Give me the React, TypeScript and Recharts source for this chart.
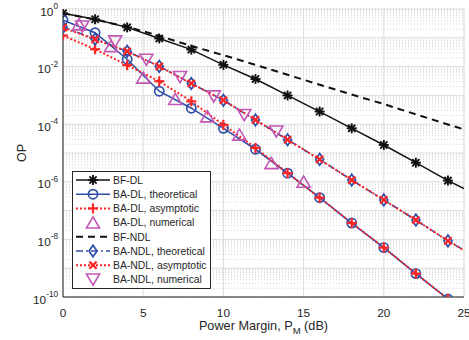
import React from 'react';
import { LineChart, Line, XAxis, YAxis, CartesianGrid, Legend } from 'recharts';

// power margin (dB) sample points
const pmLine = [0, 2, 4, 6, 8, 10, 12, 14, 16, 18, 20, 22, 24, 25];
const pmEven = [0, 2, 4, 6, 8, 10, 12, 14, 16, 18, 20, 22, 24];
const pmOdd = [1, 3, 5, 7, 9, 11, 13, 15];
const pmNdlNum = [1.2, 3.25, 5.2, 7.3, 9.4, 11.3, 13.3];

// outage probability
const opBfDl = [7.1e-1, 4.4e-1, 2.3e-1, 9.5e-2, 3.9e-2, 1.15e-2, 3.7e-3, 1.0e-3, 2.75e-4, 7.2e-5, 1.9e-5, 4.6e-6, 1.1e-6, 5.8e-7];
const opBfNdl = [7.1e-1, 4.3e-1, 2.4e-1, 1.17e-1, 5.2e-2, 2.5e-2, 1.15e-2, 5.2e-3, 2.35e-3, 1.07e-3, 5.0e-4, 2.2e-4, 9.8e-5, 6.6e-5];
const opBaDlTheo = [4.1e-1, 1.5e-1, 1.8e-2, 1.4e-3, 3.6e-4, 7.2e-5, 1.35e-5, 2.0e-6, 2.8e-7, 3.7e-8, 5.2e-9, 6.5e-10, 8.5e-11];
const opBaDlAsym = [1.2e-1, 4.0e-2, 1.12e-2, 3.1e-3, 6.2e-4, 9.5e-5, 1.5e-5, 2.0e-6, 2.8e-7, 3.7e-8, 5.2e-9, 6.5e-10, 8.5e-11];
const opBaDlNum = [2.9e-1, 5.1e-2, 4.1e-3, 7.4e-4, 1.86e-4, 4.3e-5, 4.4e-6, 1.0e-6];
const opBaNdlTheo = [2.35e-1, 9.1e-2, 3.4e-2, 1.02e-2, 2.6e-3, 6.8e-4, 1.4e-4, 2.9e-5, 6.0e-6, 1.15e-6, 2.35e-7, 4.7e-8, 8.9e-9, 4.2e-9];
const opBaNdlAsym = [2.25e-1, 8.8e-2, 3.4e-2, 1.02e-2, 2.6e-3, 6.8e-4, 1.4e-4, 2.9e-5, 6.0e-6, 1.15e-6, 2.35e-7, 4.7e-8, 8.9e-9, 4.2e-9];
const opBaNdlNum = [2.5e-1, 7.6e-2, 1.75e-2, 4.4e-3, 9.3e-4, 2.1e-4, 5.6e-5];

const xTicks = [0, 5, 10, 15, 20, 25];
const yTicks = [1, 1e-1, 1e-2, 1e-3, 1e-4, 1e-5, 1e-6, 1e-7, 1e-8, 1e-9, 1e-10];

const minorX: number[] = [];
for (let i = 0; i <= 125; i++) if (i % 25 !== 0) minorX.push(i / 5);
const minorY: number[] = [];
for (let d = -10; d < 0; d++) for (let k = 2; k <= 9; k++) minorY.push(k * Math.pow(10, d));

const zip = (xs: number[], ys: number[]) => xs.map((x, i) => ({ x, y: ys[i] }));

const FONT = '"Liberation Sans", Arial, Helvetica, sans-serif';
const AX = '#262626';
const BLACK = '#111111';
const BLUE = '#2f4ea6';
const RED = '#ff2424';
const PURPLE = '#c257b6';

type Kind = 'star' | 'circle' | 'plus' | 'up' | 'diamond' | 'cross' | 'down';

function Marker({ kind, cx, cy, color }: { kind: Kind; cx: number; cy: number; color: string }) {
  const s = { stroke: color, fill: 'none' };
  switch (kind) {
    case 'star':
      return (
        <g {...s} strokeWidth={1.9}>
          <line x1={cx - 5} y1={cy} x2={cx + 5} y2={cy} />
          <line x1={cx} y1={cy - 5} x2={cx} y2={cy + 5} />
          <line x1={cx - 3.6} y1={cy - 3.6} x2={cx + 3.6} y2={cy + 3.6} />
          <line x1={cx - 3.6} y1={cy + 3.6} x2={cx + 3.6} y2={cy - 3.6} />
        </g>
      );
    case 'circle':
      return <circle cx={cx} cy={cy} r={4.6} {...s} strokeWidth={1.7} />;
    case 'plus':
      return (
        <g {...s} strokeWidth={2.2}>
          <line x1={cx - 5} y1={cy} x2={cx + 5} y2={cy} />
          <line x1={cx} y1={cy - 5} x2={cx} y2={cy + 5} />
        </g>
      );
    case 'cross':
      return (
        <g {...s} strokeWidth={2.2}>
          <line x1={cx - 3.6} y1={cy - 3.6} x2={cx + 3.6} y2={cy + 3.6} />
          <line x1={cx - 3.6} y1={cy + 3.6} x2={cx + 3.6} y2={cy - 3.6} />
        </g>
      );
    case 'up':
      return <polygon points={`${cx},${cy - 5.8} ${cx - 6.6},${cy + 5.4} ${cx + 6.6},${cy + 5.4}`} {...s} strokeWidth={1.6} />;
    case 'down':
      return <polygon points={`${cx - 6.6},${cy - 5.4} ${cx + 6.6},${cy - 5.4} ${cx},${cy + 5.8}`} {...s} strokeWidth={1.6} />;
    case 'diamond':
      return <polygon points={`${cx},${cy - 5.8} ${cx + 4},${cy} ${cx},${cy + 5.8} ${cx - 4},${cy}`} {...s} strokeWidth={1.7} />;
  }
  return null;
}

const dotFor = (kind: Kind, color: string) => (p: any) => {
  const { cx, cy, payload, index } = p;
  if (cx == null || cy == null || payload.x === 25) return <g key={`d${index}`} />;
  return <Marker key={`d${index}`} kind={kind} cx={cx} cy={cy} color={color} />;
};

const XTick = (p: any) => (
  <text x={p.x} y={p.y + 17.5} textAnchor="middle" fill={AX} fontSize={11.8} fontFamily={FONT}>
    {p.payload.value}
  </text>
);

const YTick = (p: any) => {
  const e = Math.round(Math.log10(p.payload.value));
  if (e % 2 !== 0) return <g />;
  return (
    <text x={p.x} y={p.y + 6.5} textAnchor="end" fill={AX} fontSize={11.8} fontFamily={FONT}>
      10<tspan dy={-6.5} fontSize={8.2}>{e === 0 ? '0' : `-${-e}`}</tspan>
    </text>
  );
};

const legendRows: { name: string; kind?: Kind; color: string; dash?: string; line: boolean; width: number }[] = [
  { name: 'BF-DL', kind: 'star', color: BLACK, line: true, width: 1.5 },
  { name: 'BA-DL, theoretical', kind: 'circle', color: BLUE, line: true, width: 1.6 },
  { name: 'BA-DL, asymptotic', kind: 'plus', color: RED, dash: '2 2', line: true, width: 2 },
  { name: 'BA-DL, numerical', kind: 'up', color: PURPLE, line: false, width: 1 },
  { name: 'BF-NDL', color: BLACK, dash: '7 5', line: true, width: 2 },
  { name: 'BA-NDL, theoretical', kind: 'diamond', color: BLUE, dash: '7 3 2 3', line: true, width: 1.6 },
  { name: 'BA-NDL, asymptotic', kind: 'cross', color: RED, dash: '2 2', line: true, width: 2 },
  { name: 'BA-NDL, numerical', kind: 'down', color: PURPLE, line: false, width: 1 },
];

function LegendBox() {
  return (
    <svg width={139} height={118} style={{ display: 'block' }}>
      <rect x={0.5} y={0.5} width={138} height={117} fill="#fff" stroke={AX} strokeWidth={1} />
      {legendRows.map((r, i) => {
        const cy = 9 + i * 14.2;
        return (
          <g key={r.name}>
            {r.line && (
              <line x1={4} y1={cy} x2={38} y2={cy} stroke={r.color} strokeWidth={r.width} strokeDasharray={r.dash} />
            )}
            {r.kind && <Marker kind={r.kind} cx={21} cy={cy} color={r.color} />}
            <text x={41} y={cy + 3.8} fontSize={10.4} fontFamily={FONT} fill={AX}>
              {r.name}
            </text>
          </g>
        );
      })}
    </svg>
  );
}

export default function App() {
  return (
    <div style={{ position: 'absolute', left: 0, top: 0, width: 469, height: 340, background: '#fff' }}>
      <LineChart width={469} height={340} margin={{ top: 9, right: 5, bottom: 0, left: 0 }}>
        <CartesianGrid xAxisId="minor" yAxisId="minor" stroke="#d6d6d6" strokeDasharray="1 2" />
        <CartesianGrid stroke="#dcdcdc" />
        <XAxis
          dataKey="x"
          type="number"
          domain={[0, 25]}
          ticks={xTicks}
          interval={0}
          height={43}
          tickSize={0}
          tick={XTick}
          axisLine={{ stroke: AX }}
          allowDataOverflow
          label={{
            content: (p: any) => (
              <text
                x={p.viewBox.x + p.viewBox.width / 2}
                y={p.viewBox.y + 33}
                textAnchor="middle"
                fill={AX}
                fontSize={12.7}
                fontFamily={FONT}
                style={{ whiteSpace: 'pre' }}
              >
                Power Margin, P<tspan dy={3.5} fontSize={9.5}>M</tspan>
                <tspan dy={-3.5} fontSize={12.7}> (dB)</tspan>
              </text>
            ),
          }}
        />
        <XAxis xAxisId="top" orientation="top" type="number" domain={[0, 25]} height={0} tick={false} tickLine={false} axisLine={{ stroke: AX }} />
        <XAxis xAxisId="minor" type="number" domain={[0, 25]} ticks={minorX} interval={0} hide />
        <YAxis
          type="number"
          scale="log"
          domain={[1e-10, 1]}
          ticks={yTicks}
          interval={0}
          allowDataOverflow
          width={63}
          tickSize={0}
          tickMargin={5}
          tick={YTick}
          axisLine={{ stroke: AX }}
          label={{
            content: (p: any) => {
              const cy = p.viewBox.y + p.viewBox.height / 2;
              return (
                <text x={25.5} y={cy} transform={`rotate(-90 25.5 ${cy})`} textAnchor="middle" fill={AX} fontSize={12.5} fontFamily={FONT}>
                  OP
                </text>
              );
            },
          }}
        />
        <YAxis yAxisId="right" orientation="right" type="number" domain={[0, 1]} width={0} tick={false} tickLine={false} axisLine={{ stroke: AX }} />
        <YAxis yAxisId="minor" type="number" scale="log" domain={[1e-10, 1]} ticks={minorY} interval={0} allowDataOverflow hide />

        <Line data={zip(pmLine, opBfDl)} dataKey="y" type="linear" stroke={BLACK} strokeWidth={1.5} dot={dotFor('star', BLACK)} activeDot={false} isAnimationActive={false} />
        <Line data={zip(pmEven, opBaDlTheo)} dataKey="y" type="linear" stroke={BLUE} strokeWidth={1.6} dot={dotFor('circle', BLUE)} activeDot={false} isAnimationActive={false} />
        <Line data={zip(pmEven, opBaDlAsym)} dataKey="y" type="linear" stroke={RED} strokeWidth={2} strokeDasharray="2 2" dot={dotFor('plus', RED)} activeDot={false} isAnimationActive={false} />
        <Line data={zip(pmOdd, opBaDlNum)} dataKey="y" type="linear" stroke="none" dot={dotFor('up', PURPLE)} activeDot={false} isAnimationActive={false} />
        <Line data={zip(pmLine, opBfNdl)} dataKey="y" type="linear" stroke={BLACK} strokeWidth={2} strokeDasharray="7 5" dot={false} activeDot={false} isAnimationActive={false} />
        <Line data={zip(pmLine, opBaNdlTheo)} dataKey="y" type="linear" stroke={BLUE} strokeWidth={1.6} strokeDasharray="7 3 2 3" dot={dotFor('diamond', BLUE)} activeDot={false} isAnimationActive={false} />
        <Line data={zip(pmLine, opBaNdlAsym)} dataKey="y" type="linear" stroke={RED} strokeWidth={2} strokeDasharray="2 2" dot={dotFor('cross', RED)} activeDot={false} isAnimationActive={false} />
        <Line data={zip(pmNdlNum, opBaNdlNum)} dataKey="y" type="linear" stroke="none" dot={dotFor('down', PURPLE)} activeDot={false} isAnimationActive={false} />

        <Legend
          layout="horizontal"
          verticalAlign="middle"
          align="center"
          wrapperStyle={{ left: 72, top: 171, width: 139, height: 118 }}
          content={() => <LegendBox />}
        />
      </LineChart>
    </div>
  );
}
